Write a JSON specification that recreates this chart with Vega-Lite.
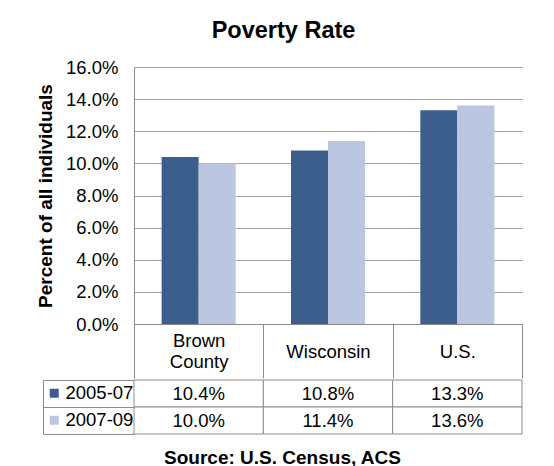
{
  "$schema": "https://vega.github.io/schema/vega-lite/v6.json",
  "padding": {"left": 36, "top": 18, "right": 10, "bottom": 0},
  "background": "white",
  "title": {"text": "Poverty Rate", "anchor": "middle", "fontSize": 23.5, "fontWeight": "bold", "font": "Liberation Sans", "color": "#000", "offset": 16, "dx": 4},
  "datasets": {
    "rates": [
      {"area": "Brown County", "period": "2005-07", "rate": 0.104},
      {"area": "Brown County", "period": "2007-09", "rate": 0.100},
      {"area": "Wisconsin", "period": "2005-07", "rate": 0.108},
      {"area": "Wisconsin", "period": "2007-09", "rate": 0.114},
      {"area": "U.S.", "period": "2005-07", "rate": 0.133},
      {"area": "U.S.", "period": "2007-09", "rate": 0.136}
    ]
  },
  "spacing": 0,
  "config": {
    "font": "Liberation Sans",
    "view": {"stroke": null},
    "axis": {"labelFont": "Liberation Sans", "titleFont": "Liberation Sans", "labelColor": "#000", "titleColor": "#000"},
    "legend": {"labelFont": "Liberation Sans", "labelColor": "#000"}
  },
  "vconcat": [
    {
      "width": 388,
      "height": 257,
      "data": {"name": "rates"},
      "mark": {"type": "bar"},
      "encoding": {
        "x": {
          "field": "area", "type": "nominal",
          "sort": ["Brown County", "Wisconsin", "U.S."],
          "scale": {"paddingInner": 0, "paddingOuter": 0},
          "axis": {"title": null, "labelAngle": 0, "tickBand": "extent", "tickSize": 54, "tickColor": "#8c8c8c", "domainColor": "#8c8c8c", "labelPadding": {"condition": {"test": "datum.value == 'Brown County'", "value": -37.5}, "value": -27}, "labelBaseline": "middle", "labelFontSize": 18.5, "labelLineHeight": 21, "labelExpr": "datum.value ? split(datum.value, ' ') : ''", "labelOverlap": false, "grid": false}
        },
        "xOffset": {"field": "period", "type": "nominal", "scale": {"paddingInner": 0, "paddingOuter": 0.747}},
        "y": {
          "field": "rate", "type": "quantitative",
          "scale": {"domain": [0, 0.16]},
          "axis": {"format": ".1%", "values": [0, 0.02, 0.04, 0.06, 0.08, 0.1, 0.12, 0.14, 0.16], "title": "Percent of all individuals", "titleFontSize": 19, "titleFontWeight": "bold", "titlePadding": 10, "labelFontSize": 18.5, "labelPadding": 16, "ticks": false, "labelFlush": false, "labelOverlap": false, "gridColor": "#a6a6a6", "domainColor": "#8c8c8c"}
        },
        "color": {
          "field": "period", "type": "nominal",
          "scale": {"range": ["#3C5E8D", "#BBC7E0"]},
          "legend": {"title": null, "orient": "none", "legendX": -89, "legendY": 317, "symbolType": "square", "symbolSize": 81, "symbolStrokeWidth": 0, "labelFontSize": 18.5, "labelOffset": 2, "rowPadding": 8, "direction": "vertical"}
        }
      }
    },
    {
      "width": 388,
      "height": 54,
      "data": {"name": "rates"},
      "title": {"text": "Source:  U.S. Census, ACS", "orient": "bottom", "anchor": "middle", "frame": "bounds", "fontSize": 19, "fontWeight": "bold", "offset": 14, "color": "#000"},
      "encoding": {
        "x": {"field": "area", "type": "nominal", "sort": ["Brown County", "Wisconsin", "U.S."], "scale": {"paddingInner": 0, "paddingOuter": 0}, "axis": null},
        "y": {"field": "period", "type": "nominal", "scale": {"paddingInner": 0, "paddingOuter": 0}, "axis": {"title": null, "labels": false, "orient": "left", "offset": 91, "tickSize": -91, "tickBand": "extent", "domainColor": "#8c8c8c", "tickColor": "#8c8c8c", "grid": false}}
      },
      "layer": [
        {"mark": {"type": "rect", "fill": "white", "stroke": "#8c8c8c", "strokeWidth": 1}},
        {"mark": {"type": "text", "fontSize": 18.5, "color": "#000"}, "encoding": {"text": {"field": "rate", "type": "quantitative", "format": ".1%"}}}
      ]
    }
  ]
}
